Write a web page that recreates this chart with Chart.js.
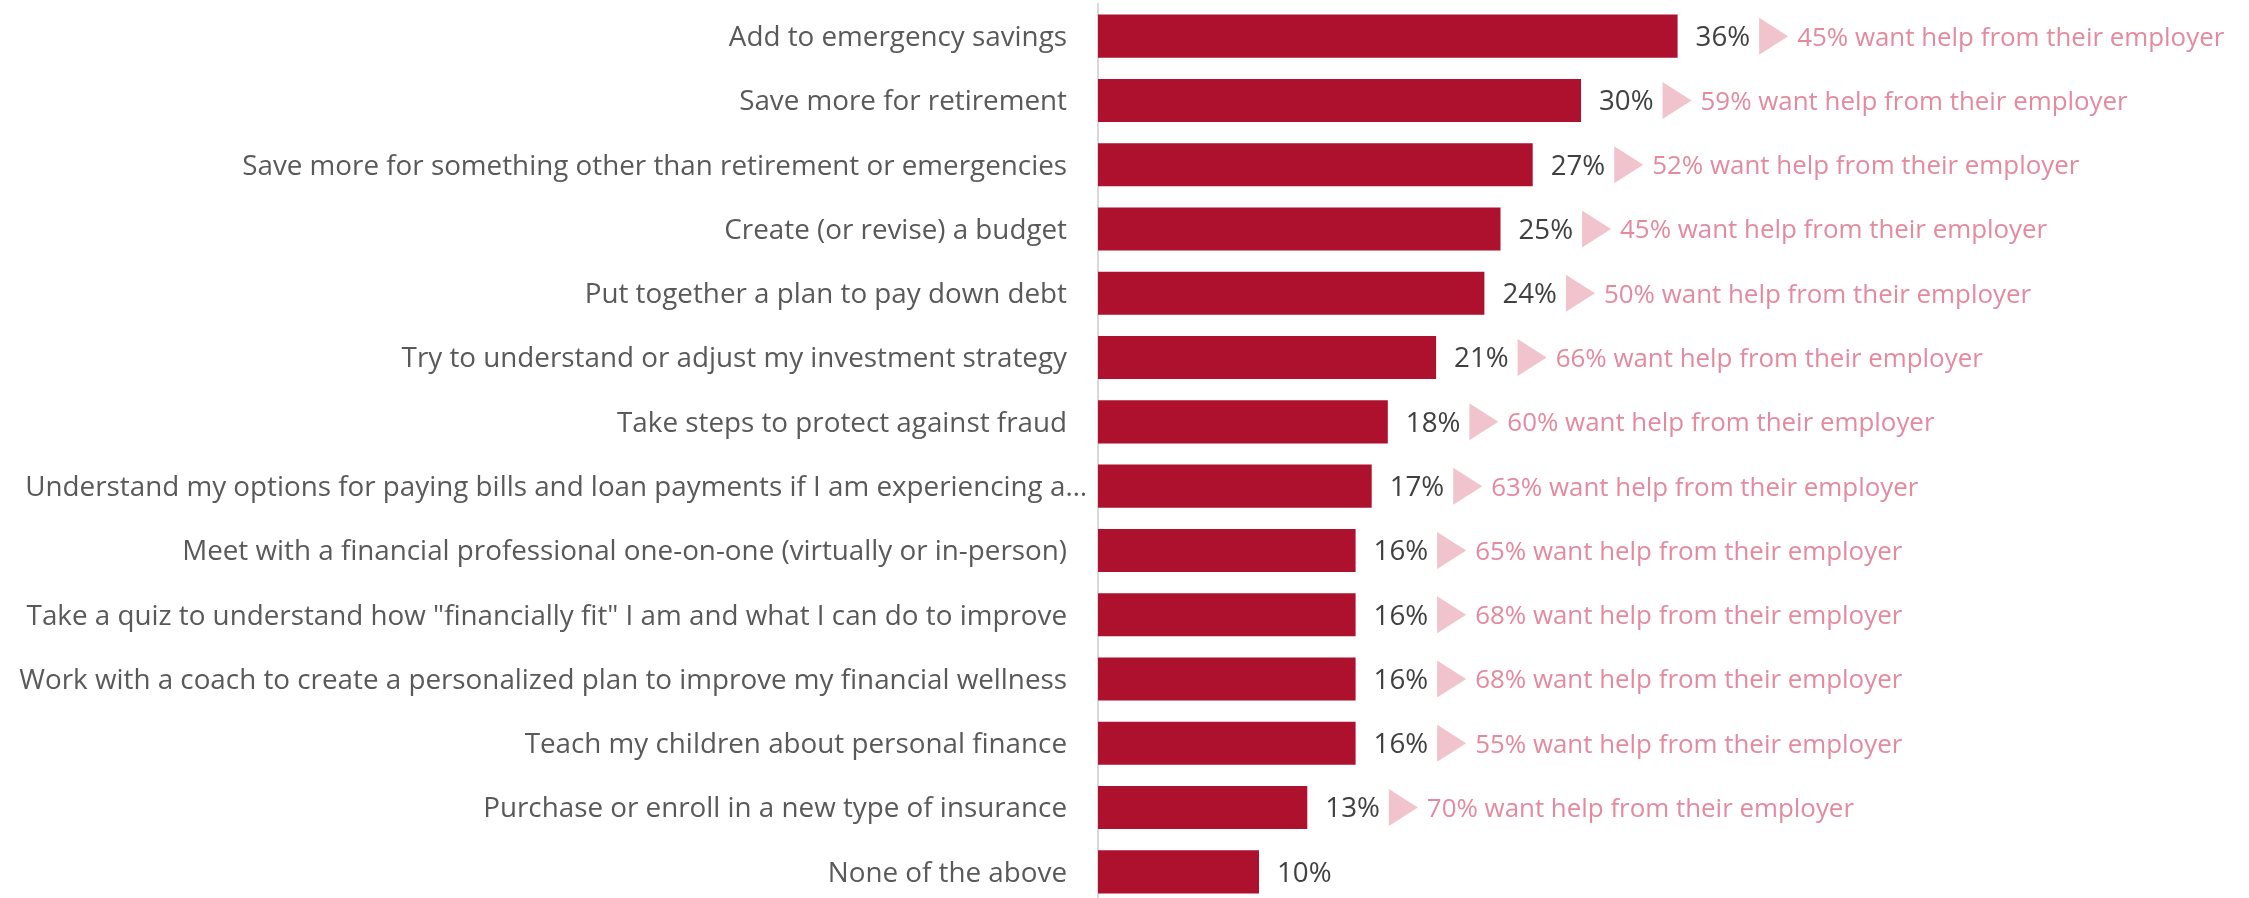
<!DOCTYPE html>
<html>
<head>
<meta charset="utf-8">
<script src="https://cdn.jsdelivr.net/npm/chart.js@4/dist/chart.umd.min.js"></script>
<style>
  html, body { margin: 0; padding: 0; background: #fff; overflow: hidden; }
  #wrap { width: 2249px; height: 904px; }
</style>
</head>
<body>
<div id="wrap"><canvas id="chartAcciones"></canvas></div>
<script>
const categorias = [
  "Add to emergency savings",
  "Save more for retirement",
  "Save more for something other than retirement or emergencies",
  "Create (or revise) a budget",
  "Put together a plan to pay down debt",
  "Try to understand or adjust my investment strategy",
  "Take steps to protect against fraud",
  "Understand my options for paying bills and loan payments if I am experiencing a…",
  "Meet with a financial professional one-on-one (virtually or in-person)",
  "Take a quiz to understand how \"financially fit\" I am and what I can do to improve",
  "Work with a coach to create a personalized plan to improve my financial wellness",
  "Teach my children about personal finance",
  "Purchase or enroll in a new type of insurance",
  "None of the above",
];
const valores = [36, 30, 27, 25, 24, 21, 18, 17, 16, 16, 16, 16, 13, 10];
const ayudaEmpleador = [45, 59, 52, 45, 50, 66, 60, 63, 65, 68, 68, 55, 70, null];

const FUENTE_VALOR = "27.7px 'Open Sans'";
const FUENTE_AYUDA = "25.9px 'Open Sans'";
const BAJAR_TEXTO = 2;

// la etiqueta truncada (con "…") va más pegada al eje
const ajusteEtiquetas = {
  id: "ajusteEtiquetas",
  beforeDraw(chart) {
    const scale = chart.scales.y;
    const items = scale.getLabelItems(chart.chartArea);
    items.forEach((item, i) => {
      if (item._ajustado) return;
      item._ajustado = true;
      item.options.translation[1] += BAJAR_TEXTO;
      if (categorias[i].endsWith("…")) item.options.translation[0] += 20;
    });
  },
};

// etiquetas de valor + flecha rosa con el % que quiere ayuda del empleador
const etiquetasPlugin = {
  id: "etiquetas",
  afterDatasetsDraw(chart) {
    const ctx = chart.ctx;
    const meta = chart.getDatasetMeta(0);
    ctx.save();
    ctx.textBaseline = "middle";
    ctx.textAlign = "left";
    meta.data.forEach((bar, i) => {
      const txt = valores[i] + "%";
      let x = bar.x + 18;
      const y = bar.y;
      ctx.font = FUENTE_VALOR;
      ctx.fillStyle = "#404040";
      ctx.fillText(txt, x, y + BAJAR_TEXTO);
      if (ayudaEmpleador[i] == null) return;
      x += ctx.measureText(txt).width + 9;
      ctx.fillStyle = "#f1c4cd";
      ctx.beginPath();
      ctx.moveTo(x, y - 18.5);
      ctx.lineTo(x + 29, y);
      ctx.lineTo(x, y + 18.5);
      ctx.closePath();
      ctx.fill();
      ctx.font = FUENTE_AYUDA;
      ctx.fillStyle = "#e48a9e";
      ctx.fillText(ayudaEmpleador[i] + "% want help from their employer", x + 38, y + BAJAR_TEXTO);
    });
    ctx.restore();
  },
};

const ctx_acciones = document.getElementById("chartAcciones");
const myChart = new Chart(ctx_acciones, {
  type: "bar",
  data: {
    labels: categorias,
    datasets: [
      {
        data: valores,
        backgroundColor: "#ae112e",
        borderWidth: 0,
        categoryPercentage: 1,
        barPercentage: 0.67,
      },
    ],
  },
  options: {
    indexAxis: "y",
    responsive: true,
    maintainAspectRatio: false,
    animation: false,
    devicePixelRatio: 1,
    layout: { padding: { top: 4, right: 24, left: 0, bottom: 0 } },
    plugins: {
      legend: { display: false },
      tooltip: { enabled: false },
    },
    scales: {
      x: {
        display: false,
        min: 0,
        max: 70,
      },
      y: {
        afterFit(scale) {
          scale.width = 1098;
          // sin relleno extra arriba/abajo por las etiquetas
          scale.paddingTop = 0;
          scale.paddingBottom = 0;
        },
        grid: { display: false, drawTicks: false },
        border: { display: true, color: "#d9d9d9", width: 2 },
        ticks: {
          padding: 31,
          color: "#595959",
          autoSkip: false,
          font: { family: "'Open Sans'", size: 27.8 },
        },
      },
    },
  },
  plugins: [ajusteEtiquetas, etiquetasPlugin],
});
</script>
</body>
</html>
